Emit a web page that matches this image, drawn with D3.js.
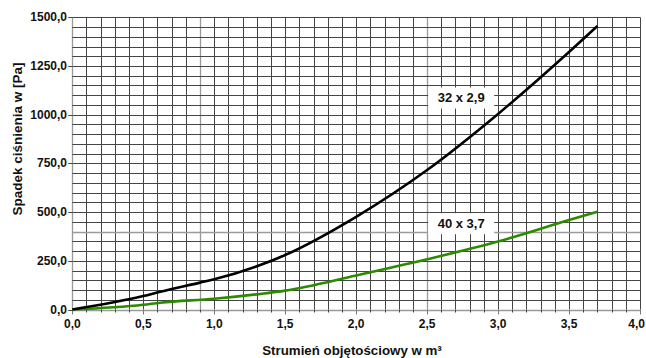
<!DOCTYPE html>
<html><head><meta charset="utf-8">
<script src="https://cdn.jsdelivr.net/npm/d3@7/dist/d3.min.js"></script>
<style>body{margin:0;background:#fff}svg{display:block;font-family:"Liberation Sans",Arial,sans-serif}</style>
</head><body><svg id="c" width="646" height="358"></svg>
<script>
const xTicks = [0,0.5,1.0,1.5,2.0,2.5,3.0,3.5,4.0];
const yTicks = [0,250,500,750,1000,1250,1500];
const seriesNames = ["32 x 2,9","40 x 3,7"];
const flowBlack = [0,0.5,0.62,0.9,1.0,1.324,1.5,2.0,2.5,3.0,3.5,3.7];
const dpBlack   = [0,69,91,138,155,228,280,476,716,1004,1322,1455];
const flowGreen = [0,0.5,0.62,1.0,1.324,1.5,2.0,2.5,3.0,3.5,3.7];
const dpGreen   = [0,24,35,55,80,97,175,258,349,459,502];
const xTitle = "Strumień objętościowy w m³";
const yTitle = "Spadek ciśnienia w [Pa]";

const svg = d3.select("#c");
const L=72.3, R=640, T=17.3, B=309.5;
const x = d3.scaleLinear().domain([0,4]).range([L,R]);
const y = d3.scaleLinear().domain([0,1500]).range([B,T]);
const fmt = v => d3.format(".1f")(v).replace(".",",");
const px = v => Math.round(v)+0.5;

const g = svg.append("g");
const vx = d3.range(0,41).map(i=>i/10);
const hy = d3.range(0,31).map(i=>i*50);
vx.forEach(v=>{
  const light = (Math.abs(v-0.9)<1e-6||Math.abs(v-2.5)<1e-6||v===0);
  g.append("line").attr("x1",px(x(v))).attr("x2",px(x(v))).attr("y1",T).attr("y2",B)
   .attr("stroke",light?"#9a9a9a":"#454545").attr("stroke-width",light?1.3:1);
});
hy.forEach(v=>{
  const light = (v===0||v===400);
  g.append("line").attr("x1",L).attr("x2",R).attr("y1",px(y(v))).attr("y2",px(y(v)))
   .attr("stroke",light?"#9a9a9a":"#454545").attr("stroke-width",light?1.6:1);
});
vx.forEach(v=>{
  const major = Math.abs(v*2-Math.round(v*2))<1e-6;
  g.append("line").attr("x1",px(x(v))).attr("x2",px(x(v))).attr("y1",B).attr("y2",B+(major?5:3))
   .attr("stroke",major?"#777":"#454545").attr("stroke-width",1);
});
yTicks.forEach(v=>{
  g.append("line").attr("x1",L-4).attr("x2",L).attr("y1",px(y(v))).attr("y2",px(y(v)))
   .attr("stroke","#454545");
});
xTicks.forEach((v,i)=>{
  const last = i===xTicks.length-1;
  svg.append("text").attr("x",last?645:x(v)).attr("y",328).attr("text-anchor",last?"end":"middle")
   .attr("font-size",12).attr("font-weight","bold").attr("fill","#111").text(fmt(v));
});
yTicks.forEach(v=>{
  svg.append("text").attr("x",67).attr("y",y(v)+4).attr("text-anchor","end")
   .attr("font-size",12).attr("font-weight","bold").attr("fill","#111").text(fmt(v));
});
svg.append("text").attr("x",352).attr("y",355).attr("text-anchor","middle")
  .attr("font-size",13.3).attr("font-weight","bold").attr("fill","#111").text(xTitle);
svg.append("text").attr("transform","translate(22,139) rotate(-90)").attr("text-anchor","middle")
  .attr("font-size",13.5).attr("font-weight","bold").attr("fill","#111").text(yTitle);

const line = d3.line().x(d=>x(d[0])).y(d=>y(d[1])).curve(d3.curveMonotoneX);
svg.append("path").attr("d",line(d3.zip(flowGreen,dpGreen))).attr("fill","none")
  .attr("stroke","#2a8a00").attr("stroke-width",2.6);
svg.append("path").attr("d",line(d3.zip(flowBlack,dpBlack))).attr("fill","none")
  .attr("stroke","#000").attr("stroke-width",2.6);

const labels = [[seriesNames[0],2.74,1088],[seriesNames[1],2.74,443]];
labels.forEach(([t,lx,ly])=>{
  const cx=x(lx), cy=y(ly);
  svg.append("rect").attr("x",cx-33).attr("y",cy-10).attr("width",66).attr("height",21).attr("fill","#fff");
  svg.append("text").attr("x",cx).attr("y",cy+4.5).attr("text-anchor","middle")
   .attr("font-size",13).attr("font-weight","bold").attr("fill","#111").text(t);
});
</script></body></html>
